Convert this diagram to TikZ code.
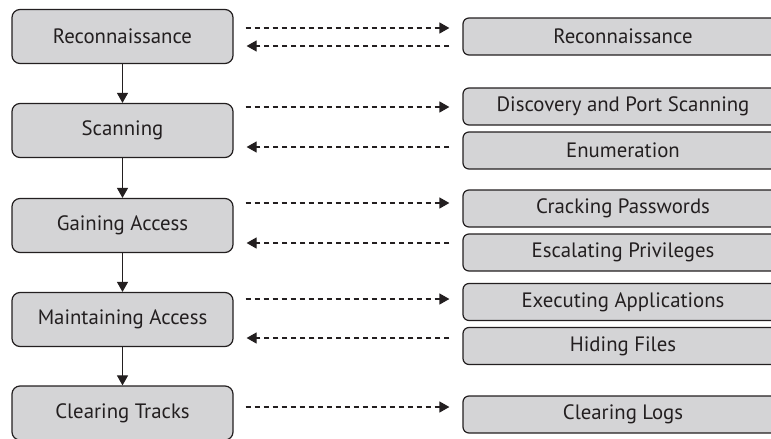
\documentclass[tikz,border=0pt]{standalone}
\usepackage{fontspec}
\setmainfont{PT Sans}
\usetikzlibrary{arrows.meta}
\definecolor{boxfill}{RGB}{212,212,214}
\definecolor{ink}{RGB}{35,31,32}
\tikzset{
  leftbox/.style={draw=ink, line width=1.2pt, fill=boxfill, rounded corners=8pt,
    minimum width=221pt, minimum height=54pt, inner sep=0pt, text=ink,
    font=\fontsize{20.8}{24}\selectfont},
  rightbox/.style={draw=ink, line width=1.2pt, fill=boxfill, rounded corners=6pt,
    minimum width=320pt, minimum height=37pt, inner sep=0pt, text=ink,
    font=\fontsize{20.8}{24}\selectfont},
  flow/.style={draw=ink, line width=1.1pt, -{Triangle[length=10pt,width=11pt]}},
  dasharrow/.style={draw=ink, line width=1.2pt, dash pattern=on 5.5pt off 3.5pt,
    -{Triangle[length=10pt,width=11pt]}, shorten <=12pt, shorten >=13pt},
  dashback/.style={draw=ink, line width=1.2pt, dash pattern=on 5.5pt off 3.5pt,
    -{Triangle[length=10pt,width=11pt]}, shorten <=13pt, shorten >=13pt}
}
\begin{document}
\begin{tikzpicture}[x=1pt,y=-1pt]
\useasboundingbox (0,0) rectangle (771,439);
\clip (0,0) rectangle (771,439);
\node[leftbox] (L1) at (122.5,36.5) {Reconnaissance};
\node[leftbox] (L2) at (122.5,130.5) {Scanning};
\node[leftbox] (L3) at (122.5,225.5) {Gaining Access};
\node[leftbox] (L4) at (122.5,319.5) {Maintaining Access};
\node[leftbox] (L5) at (122.5,413) {Clearing Tracks};

\node[rightbox] (R1) at (623,36.5) {Reconnaissance};
\node[rightbox] (R2) at (623,106.5) {Discovery and Port Scanning};
\node[rightbox] (R3) at (623,150.5) {Enumeration};
\node[rightbox] (R4) at (623,208.5) {Cracking Passwords};
\node[rightbox] (R5) at (623,252.5) {Escalating Privileges};
\node[rightbox] (R6) at (623,302) {Executing Applications};
\node[rightbox] (R7) at (623,346) {Hiding Files};
\node[rightbox] (R8) at (623,414.5) {Clearing Logs};

\draw[flow] (L1) -- (L2);
\draw[flow] (L2) -- (L3);
\draw[flow] (L3) -- (L4);
\draw[flow] (L4) -- (L5);

\draw[dasharrow] (L1.east |- 0,28) -- (R1.west |- 0,28);
\draw[dashback] (R1.west |- 0,46) -- (L1.east |- 0,46);
\draw[dasharrow] (L2.east |- 0,107) -- (R2.west |- 0,107);
\draw[dashback] (R3.west |- 0,147) -- (L2.east |- 0,147);
\draw[dasharrow] (L3.east |- 0,203) -- (R4.west |- 0,203);
\draw[dashback] (R5.west |- 0,243) -- (L3.east |- 0,243);
\draw[dasharrow] (L4.east |- 0,299) -- (R6.west |- 0,299);
\draw[dashback] (R7.west |- 0,338) -- (L4.east |- 0,338);
\draw[dasharrow] (L5.east |- 0,407) -- (R8.west |- 0,407);
\end{tikzpicture}
\end{document}
